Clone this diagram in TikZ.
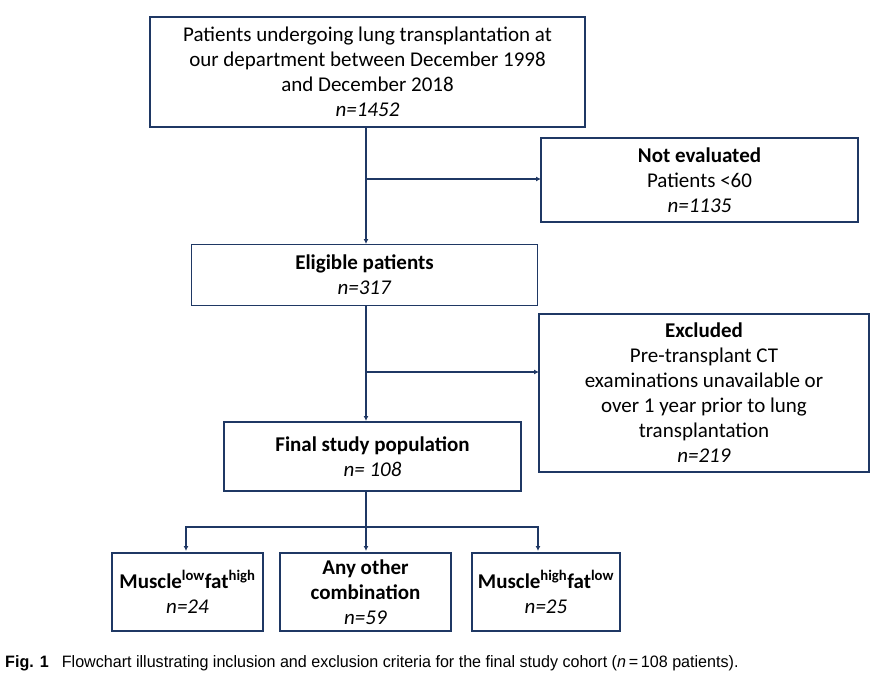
\documentclass[tikz,border=0pt]{standalone}
\usepackage{fontspec}
\setmainfont{Carlito}
\newfontfamily\capfont[FakeStretch=0.975]{Liberation Sans}
\usetikzlibrary{arrows.meta}
\definecolor{navy}{HTML}{1F3864}
\tikzset{
  box/.style={draw=navy, line width=1.4pt, rectangle, outer sep=0pt, inner sep=2pt,
    align=center, font=\fontsize{21}{25}\selectfont, text=black},
  conn/.style={draw=navy, line width=1.3pt},
  arr/.style={conn, -{Latex[length=5pt,width=5pt]}}
}
\begin{document}
\begin{tikzpicture}[x=1pt,y=-1pt]
\useasboundingbox (0,0) rectangle (884,685);
\fill[white] (0,0) rectangle (884,685);
% boxes
\node[box, minimum width=435pt, minimum height=110pt] (top) at (367.5,72)
  {Patients undergoing lung transplantation at\\our department between December 1998\\and December 2018\\\textit{n=1452}};
\node[box, minimum width=317pt, minimum height=84pt] (noteval) at (699.5,180)
  {\textbf{Not evaluated}\\Patients <60\\\textit{n=1135}};
\node[box, minimum width=346pt, minimum height=61pt] (elig) at (364.5,275)
  {\textbf{Eligible patients}\\\textit{n=317}};
\node[box, minimum width=330pt, minimum height=158pt] (excl) at (704,393)
  {\textbf{Excluded}\\Pre-transplant CT\\examinations unavailable or\\over 1 year prior to lung\\transplantation\\\textit{n=219}};
\node[box, minimum width=297pt, minimum height=69pt] (final) at (372.5,456.5)
  {\textbf{Final study population}\\\textit{n= 108}};
\node[box, minimum width=151pt, minimum height=78pt] (b1) at (187.5,592)
  {\textbf{Muscle\textsuperscript{low}fat\textsuperscript{high}}\\\textit{n=24}};
\node[box, minimum width=171pt, minimum height=78pt] (b2) at (365.5,592)
  {\textbf{Any other}\\\textbf{combination}\\\textit{n=59}};
\node[box, minimum width=148pt, minimum height=78pt] (b3) at (546,592)
  {\textbf{Muscle\textsuperscript{high}fat\textsuperscript{low}}\\\textit{n=25}};
% connectors
\coordinate (j1) at (366,179);
\coordinate (j2) at (366,372);
\coordinate (j3) at (366,527);
\draw[arr] (366,127) -- (366,244);
\draw[arr] (j1) -- (noteval.west |- j1);
\draw[arr] (366,306) -- (366,421);
\draw[arr] (j2) -- (excl.west |- j2);
\draw[conn] (366,491) -- (j3);
\draw[arr] (j3) -| (186,551);
\draw[arr] (j3) -| (538,551);
\draw[arr] (j3) -- (366,551);
% caption
\node[anchor=base west, inner sep=0pt, font=\capfont\fontsize{16.5}{19}\selectfont] (cap) at (5,667)
  {\textbf{Fig. 1}\hspace{0.8em}Flowchart illustrating inclusion and exclusion criteria for the final study cohort (\textit{n}\,=\,108 patients).};
\end{tikzpicture}
\end{document}
